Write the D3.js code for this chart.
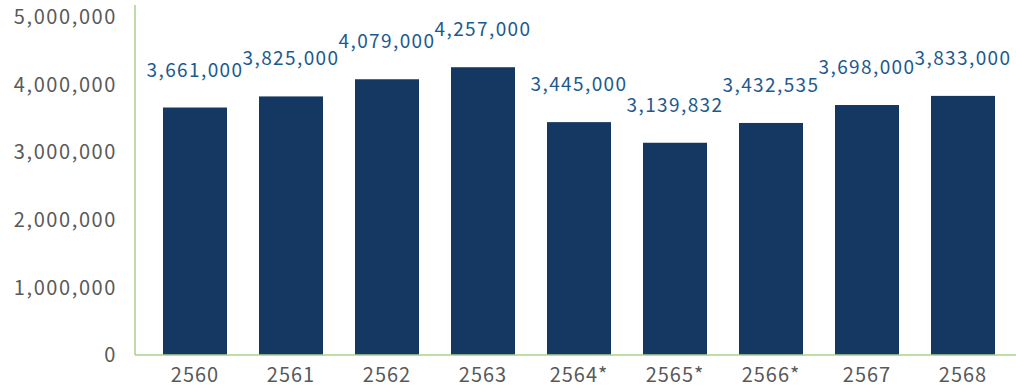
<!DOCTYPE html>
<html>
<head>
<meta charset="utf-8">
<script src="https://cdn.jsdelivr.net/npm/d3@7"></script>
<style>
    body { margin: 0; background: #fff; }
    svg text { font-family: "Noto Sans CJK JP", "Noto Sans", sans-serif; }
</style>
</head>
<body>
<div id="chart"></div>
<script>
// DATA
const years = ['2560', '2561', '2562', '2563', '2564*', '2565*', '2566*', '2567', '2568'];
const visitors = [3661000, 3825000, 4079000, 4257000, 3445000, 3139832, 3432535, 3698000, 3833000];
const yTicks = [0, 1000000, 2000000, 3000000, 4000000, 5000000];

// SETTINGS
const dimensions = { width: 1016, height: 390 };
const plot = { left: 135, right: 1016, top: 17, bottom: 355 };
const colors = {
    bar: '#143861',
    label: '#1c5a8e',
    tick: '#595959',
    axis: '#a9d18e'
};

const svg = d3.select('#chart')
    .append('svg')
    .attr('width', dimensions.width)
    .attr('height', dimensions.height);

const x = d3.scaleBand()
    .domain(years)
    .range([147, 1011])
    .paddingInner(1 / 3)
    .paddingOuter(1 / 6);

const y = d3.scaleLinear()
    .domain([0, 5000000])
    .range([plot.bottom, plot.top]);

const fmt = d3.format(',');

// y tick labels
svg.append('g')
    .selectAll('text')
    .data(yTicks)
    .enter()
    .append('text')
    .attr('x', 117)
    .attr('y', d => y(d))
    .attr('dy', '0.36em')
    .attr('text-anchor', 'end')
    .attr('fill', colors.tick)
    .style('font-size', '20px')
    .style('letter-spacing', '1.6px')
    .text(d => fmt(d));

// bars
svg.append('g')
    .selectAll('rect')
    .data(visitors)
    .enter()
    .append('rect')
    .attr('x', (d, i) => x(years[i]))
    .attr('y', d => y(d))
    .attr('width', x.bandwidth())
    .attr('height', d => y(0) - y(d))
    .attr('fill', colors.bar);

// axis lines
svg.append('line')
    .attr('x1', plot.left).attr('x2', plot.left)
    .attr('y1', 5).attr('y2', plot.bottom)
    .attr('stroke', colors.axis)
    .attr('stroke-width', 1.5);
svg.append('line')
    .attr('x1', plot.left).attr('x2', plot.right)
    .attr('y1', plot.bottom).attr('y2', plot.bottom)
    .attr('stroke', colors.axis)
    .attr('stroke-width', 1.5);

// x labels
svg.append('g')
    .selectAll('text')
    .data(years)
    .enter()
    .append('text')
    .attr('x', d => x(d) + x.bandwidth() / 2)
    .attr('y', 375)
    .attr('dy', '0.36em')
    .attr('text-anchor', 'middle')
    .attr('fill', colors.tick)
    .style('font-size', '20px')
    .style('letter-spacing', '1px')
    .text(d => d);

// value labels
svg.append('g')
    .selectAll('text')
    .data(visitors)
    .enter()
    .append('text')
    .attr('x', (d, i) => x(years[i]) + x.bandwidth() / 2)
    .attr('y', d => y(d) - 31)
    .attr('text-anchor', 'middle')
    .attr('fill', colors.label)
    .style('font-size', '19px')
    .style('letter-spacing', '1.4px')
    .text(d => fmt(d));
</script>
</body>
</html>
